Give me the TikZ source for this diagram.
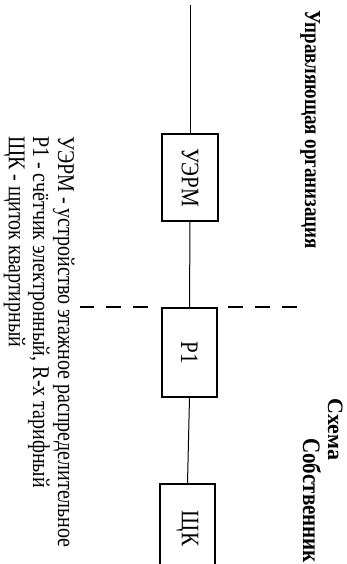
\documentclass[tikz,border=0pt]{standalone}
\usepackage{fontspec}
\setmainfont{Liberation Serif}
\usepackage{graphicx}
\newcommand{\tallsc}[1]{\scalebox{1}[1.2]{#1}}
\begin{document}
\begin{tikzpicture}[x=1pt,y=-1pt,
  box/.style={draw,line width=1.2pt,inner sep=0pt,font=\fontsize{21}{25}\selectfont},
  legend/.style={rotate=-90,anchor=base west,inner sep=0pt,font=\fontsize{20}{24}\selectfont},
  title/.style={rotate=-90,anchor=base west,inner sep=0pt,font=\fontsize{19}{23}\selectfont\bfseries},
  wire/.style={line width=1pt},
  border/.style={dash pattern=on 15pt off 12pt,line width=2.6pt}]
\useasboundingbox[fill=white] (0,0) rectangle (347,564);
% titles
\node[title] (t1) at (305,10) {\tallsc{Управляющая организация}};
\node[title,font=\fontsize{22}{26}\selectfont\bfseries] (t2) at (328,398) {Схема};
\node[title,font=\fontsize{21}{25}\selectfont\bfseries] (t3) at (303,438) {\tallsc{Собственник}};
% boxes
\node[box,minimum width=56pt,minimum height=87pt] (u) at (190,177.5) {\rotatebox{-90}{\tallsc{УЭРМ}}};
\node[box,minimum width=55pt,minimum height=89pt] (p) at (189.5,352.5) {\rotatebox{-90}{\tallsc{Р1}}};
\node[box,minimum width=55pt,minimum height=89pt] (k) at (187.5,528.5) {\rotatebox{-90}{\tallsc{ЩК}}};
% connectors
\coordinate (top) at (190,5);
\draw[wire] (top) -- (u.north);
\draw[wire] (u.south) -- (p.north);
\draw[wire] (p.south) -- (k.north);
% boundary dashed line
\coordinate (dl1) at (148,307);
\coordinate (dl2) at (80,307);
\coordinate (dr1) at (228,307);
\coordinate (dr2) at (298,307);
\draw[border] (dl1) -- (dl2);
\draw[border] (dr1) -- (dr2);
% legend
\node[legend] (l1) at (58,136) {\tallsc{УЭРМ - устройство этажное распределительное}};
\node[legend] (l2) at (33,136) {\tallsc{Р1 - счётчик электронный, R-х тарифный}};
\node[legend] (l3) at (9,136) {\tallsc{ЩК - щиток квартирный}};
\end{tikzpicture}
\end{document}
